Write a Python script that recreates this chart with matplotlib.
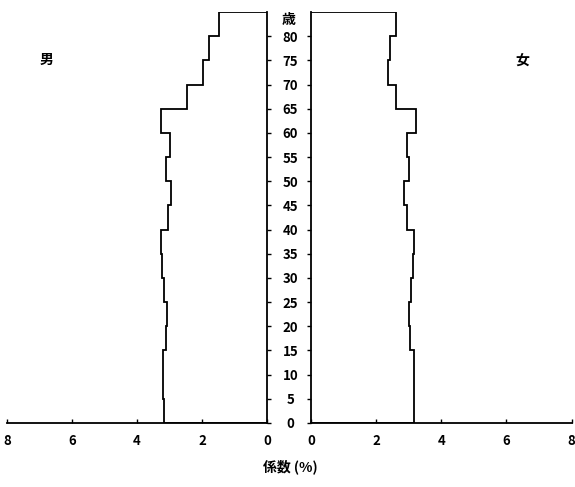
import matplotlib
matplotlib.use("Agg")
import matplotlib.pyplot as plt
import numpy as np

plt.rcParams['font.family'] = ['Noto Sans CJK JP', 'DejaVu Sans']
plt.rcParams['font.weight'] = 'bold'

# age groups (5-year bins, bottom to top)
age_edges = [0, 5, 10, 15, 20, 25, 30, 35, 40, 45, 50, 55, 60, 65, 70, 75, 80, 85]
age_ticks = [0, 5, 10, 15, 20, 25, 30, 35, 40, 45, 50, 55, 60, 65, 70, 75, 80]
male = [3.18, 3.21, 3.19, 3.12, 3.07, 3.17, 3.23, 3.26, 3.04, 2.95,
        3.12, 3.00, 3.27, 2.47, 1.96, 1.80, 1.48]
female = [3.15, 3.17, 3.15, 3.05, 3.02, 3.07, 3.12, 3.17, 2.95, 2.87,
          3.02, 2.96, 3.22, 2.60, 2.35, 2.43, 2.62]
x_ticks = [0, 2, 4, 6, 8]

W, H = 575, 487
fig = plt.figure(figsize=(W / 100, H / 100), dpi=100)

y0 = 1 - 423 / H
h = (423 - 12) / H
axL = fig.add_axes([7 / W, y0, (267 - 7) / W, h])
axR = fig.add_axes([311 / W, y0, (571.5 - 311) / W, h])

lw = 1.3
fs = 9.5
for ax, vals in ((axL, male), (axR, female)):
    ax.stairs(vals, age_edges, orientation='horizontal', baseline=0,
              color='black', linewidth=lw)
    ax.set_ylim(0, 85)
    ax.set_xlim(0, 8)
    ax.set_xticks(x_ticks)
    ax.set_xticklabels([str(t) for t in x_ticks], fontsize=fs, fontweight='bold')
    ax.tick_params(axis='x', direction='in', length=3, width=1, pad=8)
    ax.spines['top'].set_visible(False)
    for s in ax.spines.values():
        s.set_linewidth(lw)

axL.invert_xaxis()
axL.spines['left'].set_visible(False)
axL.yaxis.tick_right()
axL.set_yticks(age_ticks)
axL.set_yticklabels([str(a) for a in age_ticks], fontsize=fs, fontweight='bold',
                    ha='center')
axL.tick_params(axis='y', direction='out', length=3, width=1, pad=14)

axR.spines['right'].set_visible(False)
axR.set_yticks(age_ticks)
axR.set_yticklabels([])
axR.tick_params(axis='y', direction='out', length=3, width=1)

# labels
fig.text(289 / W, 1 - 20 / H, '歳', ha='center', va='center', fontsize=10,
         fontweight='bold')
axL.text(6.77, 75, '男', ha='center', va='center', fontsize=10, fontweight='bold')
axR.text(6.48, 75, '女', ha='center', va='center', fontsize=10, fontweight='bold')
fig.text(290 / W, 1 - 467 / H, '係数 (%)', ha='center', va='center', fontsize=10,
         fontweight='bold')

fig.savefig('out.png', dpi=100)
